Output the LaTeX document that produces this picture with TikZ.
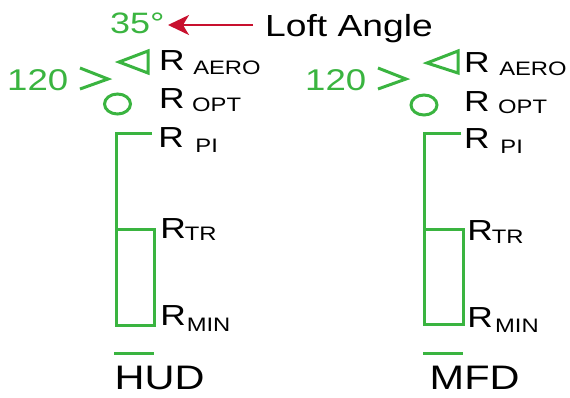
\documentclass[tikz,border=0pt]{standalone}
\usepackage{fontspec}
\setmainfont[FakeStretch=1.22]{Liberation Sans}
\usetikzlibrary{arrows.meta}
\definecolor{gr}{RGB}{58,180,64}
\definecolor{rd}{RGB}{200,16,46}
\newcommand\Rlab[3]{R\hspace{#1pt}\raisebox{-#2pt}{\fontsize{19.5}{20}\selectfont #3}}
\begin{document}
\begin{tikzpicture}[x=1pt,y=-1pt,
  gl/.style={draw=gr,line width=3pt},
  lab/.style={inner sep=0pt,anchor=base west,text depth=0pt,font=\fontsize{29}{30}\selectfont},
  glab/.style={lab,text=gr,font=\fontsize{30}{32}\selectfont},
  big/.style={lab,font=\fontsize{34}{35}\selectfont},
  arr/.style={draw=rd,line width=2pt,-{Stealth[length=21pt,width=20pt,inset=6pt]}}]
\useasboundingbox (0,0) rectangle (570,397);
% top annotation
\node[glab,font=\fontsize{29.5}{30}\selectfont] (ang) at (110,33) {35°};
\node[lab,font=\fontsize{30.5}{31}\selectfont] (loft) at (265,36) {Loft Angle};
\coordinate (a1) at (253,25);
\coordinate (a2) at (168,25);
\draw[arr] (a1) -- (a2);
% ---------- left panel (HUD) ----------
\node[glab] (n1) at (7,90) {120};
\draw[gl,line join=miter] (80,68) -- (108,79) -- (80,89);
\draw[gl,line join=miter] (119,62) -- (148,51) -- (148,73) -- cycle;
\draw[gl] (117.5,104) ellipse [x radius=13, y radius=10];
\node[lab] (aero1) at (159,70) {\Rlab{8.5}{4}{AERO}};
\node[lab] (opt1) at (159,108) {\Rlab{7.4}{3}{OPT}};
\node[lab] (pi1) at (158.2,147) {\Rlab{11.5}{5}{PI}};
\node[lab] (tr1) at (160.2,238) {\Rlab{-1.2}{2}{TR}};
\node[lab] (min1) at (160.2,325) {\Rlab{0.8}{6}{MIN}};
\draw[gl] (152,133) -- (116,133) -- (116,325) -- (154,325) -- (154,229) -- (116,229);
\draw[gl] (114,353) -- (154,353);
\node[big] (hud) at (114.5,389.5) {HUD};
% ---------- right panel (MFD) ----------
\node[glab] (n2) at (305,90) {120};
\draw[gl,line join=miter] (378,68) -- (406,79) -- (378,89);
\draw[gl,line join=miter] (427,63) -- (458,51) -- (458,73) -- cycle;
\draw[gl] (424,105) ellipse [x radius=13, y radius=10];
\node[lab] (aero2) at (464,72) {\Rlab{9.5}{3}{AERO}};
\node[lab] (opt2) at (464,111) {\Rlab{8.4}{2}{OPT}};
\node[lab] (pi2) at (464,148) {\Rlab{10.7}{5}{PI}};
\node[lab] (tr2) at (467.2,240) {\Rlab{-1}{3}{TR}};
\node[lab] (min2) at (467.2,327) {\Rlab{2.2}{5}{MIN}};
\draw[gl] (461,133) -- (424,133) -- (424,324) -- (463,324) -- (463,229) -- (424,229);
\draw[gl] (423,353) -- (463,353);
\node[big] (mfd) at (429.5,389.5) {MFD};
\end{tikzpicture}
\end{document}
